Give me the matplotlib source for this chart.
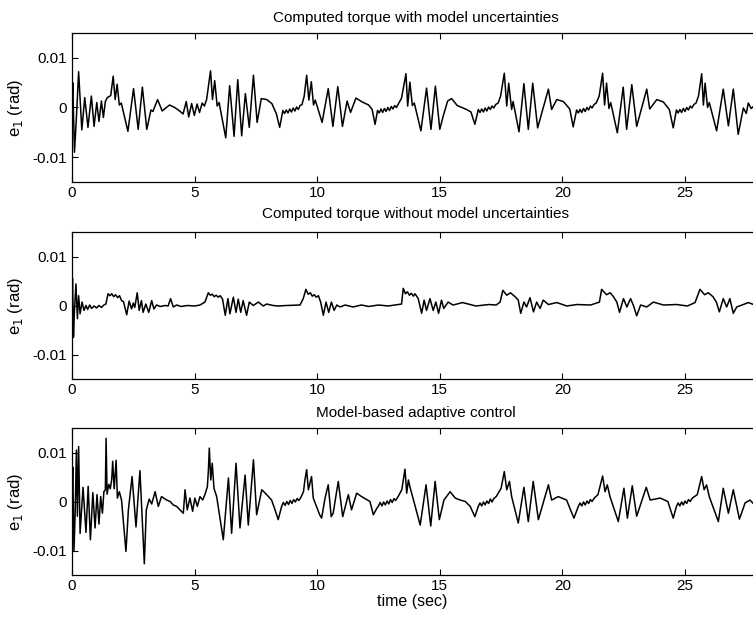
import numpy as np
import matplotlib
matplotlib.use("Agg")
import matplotlib.pyplot as plt

plt.rcParams['font.family'] = ['Liberation Sans', 'DejaVu Sans']

# e1 traces: (time in s, error in 1e-3 rad), extrema only
with_unc = [
    (0, 0), (0.03, 5), (0.1, -9), (0.18, -2), (0.27, 7.2), (0.4, -4.5), (0.52, 2),
    (0.65, -4), (0.79, 2.3), (0.9, -3.8), (1.01, 1), (1.1, -2.8), (1.2, 1.3),
    (1.28, -2), (1.36, 1.2), (1.44, 2), (1.58, 2.4), (1.68, 6.3), (1.76, 1.6),
    (1.84, 4.7), (1.93, 0.5), (2.01, 0.9), (2.28, -4.8), (2.51, 3.8), (2.7, -4.4),
    (2.87, 4.1), (3.05, -4.4), (3.22, -0.5), (3.3, -0.8), (3.49, 1.6), (3.68, -0.7),
    (3.82, -0.1), (3.98, 0.5), (4.19, 0), (4.39, -0.7), (4.53, -1.3), (4.66, 1.2),
    (4.76, -1.9), (4.88, 0.8), (4.99, -1.6), (5.1, 0.7), (5.2, -1), (5.31, 0.9),
    (5.4, 0.3), (5.49, 1.6), (5.65, 7.4), (5.73, 1.6), (5.82, 5.4), (5.92, 0.3),
    (6.0, 1), (6.27, -6.1), (6.43, 4.4), (6.61, -5.8), (6.76, 5.6), (6.92, -5.7),
    (7.07, 2.8), (7.23, -4), (7.4, 6.5), (7.55, -3), (7.72, 1.8), (7.94, 1.6),
    (8.15, 0.8), (8.33, -1.2), (8.47, -4), (8.6, -0.6), (8.67, -1.2), (8.74, -0.5),
    (8.81, -1.1), (8.88, -0.3), (8.95, -0.9), (9.02, -0.1), (9.09, -0.7), (9.16, 0.1),
    (9.23, -0.4), (9.3, 0.4), (9.38, 0.6), (9.47, 2.3), (9.57, 6.5), (9.66, 1.5),
    (9.76, 5.2), (9.85, 0.5), (9.92, 1.5), (10.2, -3), (10.45, 3.8), (10.64, -3.8),
    (10.84, 4.2), (11.03, -3.8), (11.22, 1.3), (11.36, -1), (11.58, 1.9), (11.84, 1.1),
    (12.1, 0.5), (12.24, -0.4), (12.36, -3.4), (12.46, -0.6), (12.53, -1.1),
    (12.6, -0.3), (12.67, -1.0), (12.74, -0.2), (12.81, -0.8), (12.88, 0),
    (12.95, -0.6), (13.02, 0.2), (13.09, -0.3), (13.16, 0.4), (13.23, 0), (13.32, 0.8),
    (13.44, 1.9), (13.62, 6.8), (13.69, 0.3), (13.78, 5.1), (13.88, 0.4), (13.96, 0.9),
    (14.23, -4.7), (14.46, 3.9), (14.64, -4.4), (14.82, 4.3), (15.0, -4.4),
    (15.14, -1.7), (15.32, 1.3), (15.48, 1.8), (15.71, 0.4), (16.09, -0.4),
    (16.27, -0.9), (16.43, -3.4), (16.57, -0.4), (16.64, -1.0), (16.71, -0.3),
    (16.78, -0.9), (16.85, -0.1), (16.92, -0.7), (16.99, 0.1), (17.06, -0.4),
    (17.13, 0.3), (17.2, -0.1), (17.28, 0.6), (17.38, 0.9), (17.48, 2.3), (17.63, 6.9),
    (17.73, 0.3), (17.81, 4.9), (17.93, -0.4), (17.99, 1.2), (18.23, -4.9),
    (18.43, 4.8), (18.61, -4.4), (18.79, 4.9), (18.99, -4.1), (19.43, 3.7),
    (19.56, -0.4), (19.77, 1.6), (20.04, 1.2), (20.3, -0.3), (20.44, -3.9),
    (20.58, -0.5), (20.65, -1.1), (20.72, -0.4), (20.79, -1.0), (20.86, -0.2),
    (20.93, -0.8), (21.0, 0), (21.07, -0.5), (21.14, 0.3), (21.21, -0.1), (21.29, 0.6),
    (21.38, 0.9), (21.5, 2.3), (21.64, 6.9), (21.72, 0.5), (21.8, 4.9), (21.9, -0.2),
    (21.97, 1), (22.24, -5.1), (22.48, 4.1), (22.62, -4.4), (22.83, 4.6),
    (23.03, -3.8), (23.44, 3.7), (23.56, -0.3), (23.85, 1.6), (24.12, 1.1),
    (24.36, -0.4), (24.52, -4.1), (24.65, -0.5), (24.72, -1.1), (24.79, -0.4),
    (24.86, -1), (24.93, -0.2), (25.0, -0.8), (25.07, 0), (25.14, -0.5), (25.21, 0.3),
    (25.28, -0.1), (25.36, 0.6), (25.45, 0.9), (25.55, 2.3), (25.68, 6.8),
    (25.75, 0.5), (25.82, 4.9), (25.92, 0), (25.99, 1), (26.29, -4.7), (26.56, 3.7),
    (26.77, -3.7), (26.97, 3.7), (27.17, -5.4), (27.38, -0.1), (27.5, -1.2),
    (27.58, 0.9), (27.7, -0.2), (27.85, 0.5), (28.2, 0.3),
]

without_unc = [
    (0, 0), (0.02, 5.5), (0.06, -6.5), (0.1, -1), (0.16, 4.4), (0.22, -2.7),
    (0.27, 2), (0.33, -1.7), (0.41, 0.7), (0.49, -1), (0.57, 0), (0.64, -0.8),
    (0.72, 0.1), (0.8, -0.6), (0.9, -0.1), (1.0, -0.5), (1.1, 0), (1.2, -0.4),
    (1.3, 0.1), (1.38, 0.3), (1.47, 2.4), (1.55, 2.0), (1.62, 2.4), (1.7, 1.8),
    (1.78, 2.2), (1.86, 1.6), (1.94, 2.0), (2.02, 1.0), (2.1, 0.8), (2.23, -1.9),
    (2.33, 0.9), (2.43, -0.7), (2.5, 0.5), (2.56, -0.4), (2.66, 2.6), (2.74, -1.0),
    (2.83, 1.0), (2.9, -1.4), (3.01, 0.3), (3.13, -1.4), (3.25, 1.0), (3.34, -0.7),
    (3.45, 0.1), (3.6, -0.2), (3.8, 0), (3.92, -0.1), (4.02, 1.4), (4.13, -0.3),
    (4.27, 0.1), (4.45, -0.2), (4.7, 0), (5.0, -0.1), (5.22, 0.1), (5.42, 0.7),
    (5.56, 2.6), (5.64, 2.1), (5.72, 2.3), (5.8, 1.8), (5.88, 2.1), (5.96, 1.7),
    (6.04, 2.0), (6.14, 1.3), (6.25, -2.0), (6.36, 1.4), (6.44, -1.7), (6.58, 1.7),
    (6.69, -1.4), (6.78, 1.3), (6.88, -1.4), (6.98, 1.0), (7.12, -2.0), (7.23, 0.7),
    (7.39, 0), (7.6, 0.7), (7.8, -0.1), (7.94, 0.3), (8.2, 0), (8.4, -0.1),
    (8.75, 0), (9.3, 0.1), (9.43, 1.4), (9.54, 3.3), (9.63, 2.3), (9.72, 2.6),
    (9.8, 1.9), (9.88, 2.2), (9.96, 1.7), (10.05, 2.0), (10.14, 0.7), (10.25, -2.0),
    (10.36, 0.7), (10.47, -1.4), (10.58, 0.7), (10.69, -1.0), (10.8, 0.1),
    (10.93, -0.3), (11.14, 0.1), (11.46, -0.3), (11.8, 0.1), (12.1, -0.2),
    (12.5, 0.1), (12.9, -0.1), (13.3, 0.2), (13.44, 0.3), (13.51, 3.5), (13.6, 2.4),
    (13.68, 2.8), (13.76, 2.1), (13.84, 2.5), (13.92, 1.9), (13.99, 2.4),
    (14.12, 1.4), (14.26, -1.6), (14.36, 1.1), (14.46, -1.0), (14.6, 1.4),
    (14.73, -1.0), (14.84, 0.7), (14.95, -1.6), (15.07, 1.1), (15.16, -0.6),
    (15.34, 0.7), (15.54, 0.1), (15.93, 0.6), (16.47, -0.1), (17.0, 0.2),
    (17.3, 0.1), (17.46, 0.7), (17.57, 3.1), (17.73, 2.1), (17.88, 2.6),
    (18.07, 1.8), (18.2, 1.1), (18.3, -1.6), (18.43, 0.7), (18.54, -0.3),
    (18.68, 1.6), (18.82, -1.3), (18.95, 0.7), (19.09, -0.6), (19.22, 1.1),
    (19.43, 0.2), (19.77, 0.6), (20.18, -0.1), (20.6, 0.2), (21.15, 0.1),
    (21.51, 0.7), (21.6, 3.3), (21.8, 2.2), (21.95, 2.6), (22.08, 1.8), (22.22, 0.7),
    (22.33, -1.4), (22.49, 1.4), (22.63, -0.3), (22.78, 1.4), (22.89, 0.1),
    (23.03, -2.1), (23.19, 0.1), (23.44, -0.3), (23.71, 0.7), (24.12, 0.1),
    (24.66, 0.2), (25.1, -0.1), (25.41, 0.6), (25.61, 3.3), (25.8, 2.2),
    (25.95, 2.6), (26.14, 1.8), (26.28, 0.7), (26.4, -1.3), (26.56, 1.4),
    (26.7, -0.3), (26.83, 1.4), (26.97, -1.6), (27.11, -0.3), (27.38, 0.2),
    (27.58, 0.6), (27.8, 0.2), (28.2, 0.3),
]

adaptive = [
    (0, 0), (0.03, 7), (0.08, -10.2), (0.13, -2), (0.18, 10.5), (0.22, -3),
    (0.27, 11.2), (0.33, -6.5), (0.45, 2.9), (0.57, -6.3), (0.66, 3.1), (0.75, -7.8),
    (0.85, 1.8), (0.94, -5.4), (1.02, 1.4), (1.1, -4.6), (1.17, 1.0), (1.24, -2.4),
    (1.3, 2.0), (1.36, 2.4), (1.39, 12.9), (1.43, 1.5), (1.5, 3.5), (1.56, 2.6),
    (1.62, 4.5), (1.66, 8.2), (1.72, 2.6), (1.8, 8.4), (1.85, 0.7), (1.93, 2.0),
    (2.02, 0.3), (2.2, -10.2), (2.3, -1.7), (2.45, 5.1), (2.61, -5.2), (2.77, 6.3),
    (2.95, -12.7), (3.03, -1.7), (3.15, 0.5), (3.25, -0.5), (3.39, 2.0), (3.52, -1.0),
    (3.65, 1.0), (3.86, 0.3), (4.0, 0), (4.13, -0.7), (4.27, -1.0), (4.4, -1.7),
    (4.54, -2.4), (4.61, 2.4), (4.7, -1.7), (4.81, 0.7), (4.92, -2.0), (5.01, 0.7),
    (5.11, -1.0), (5.22, 1.0), (5.33, 0.3), (5.42, 1.4), (5.52, 3.0), (5.56, 6.1),
    (5.6, 10.9), (5.66, 4.4), (5.72, 7.8), (5.79, 2.7), (5.9, 1.0), (6.17, -7.8),
    (6.38, 4.8), (6.51, -6.5), (6.69, 7.8), (6.85, -5.4), (7.06, 5.4), (7.19, -4.8),
    (7.4, 8.5), (7.53, -2.7), (7.74, 2.4), (7.94, 1.4), (8.14, 0.3), (8.28, -1.7),
    (8.41, -3.7), (8.55, -1.0), (8.62, -0.2), (8.69, -0.8), (8.76, 0), (8.83, -0.6),
    (8.9, 0.2), (8.97, -0.4), (9.04, 0.4), (9.11, -0.1), (9.18, 0.6), (9.25, 0.2),
    (9.33, 0.8), (9.44, 2.0), (9.5, 4.4), (9.57, 6.5), (9.64, 2.4), (9.77, 5.1),
    (9.84, 0.7), (10.1, -2.7), (10.18, -3.4), (10.32, 0.7), (10.45, 3.4),
    (10.57, -3.1), (10.65, -2.4), (10.86, 4.1), (11.04, -3.1), (11.27, 1.4),
    (11.4, -1.7), (11.61, 1.7), (11.81, 1.0), (12.15, 0), (12.29, -2.7),
    (12.43, -1.4), (12.5, -0.9), (12.57, -0.2), (12.64, -0.9), (12.71, -0.1),
    (12.78, -0.7), (12.85, 0.1), (12.92, -0.5), (12.99, 0.4), (13.06, -0.2),
    (13.13, 0.6), (13.2, 0.2), (13.3, 1.0), (13.45, 2.4), (13.58, 6.6), (13.65, 1.7),
    (13.72, 4.4), (13.78, 3.0), (13.89, 1.0), (14.2, -4.8), (14.44, 3.4),
    (14.63, -5.0), (14.81, 4.1), (14.98, -3.7), (15.17, 0.3), (15.42, 2.0),
    (15.63, 0.7), (15.83, 0.3), (16.04, 0), (16.24, -1.0), (16.43, -3.1),
    (16.57, -1.0), (16.64, -0.3), (16.71, -0.9), (16.78, -0.1), (16.85, -0.7),
    (16.92, 0.1), (16.99, -0.4), (17.06, 0.5), (17.13, -0.1), (17.2, 0.6),
    (17.3, 1.0), (17.5, 2.7), (17.63, 6.1), (17.73, 2.4), (17.84, 4.1), (17.93, 1.0),
    (18.2, -4.4), (18.43, 2.9), (18.61, -4.1), (18.81, 4.1), (19.02, -3.7),
    (19.43, 3.4), (19.56, 0.3), (19.83, 1.0), (20.17, 0.3), (20.47, -3.4),
    (20.65, -1.0), (20.72, -0.3), (20.79, -0.9), (20.86, -0.1), (20.93, -0.7),
    (21.0, 0.1), (21.07, -0.4), (21.14, 0.4), (21.21, 0), (21.3, 0.7), (21.45, 1.4),
    (21.64, 5.2), (21.74, 2.0), (21.83, 3.4), (21.94, 1.0), (22.28, -4.1),
    (22.51, 2.7), (22.65, -3.4), (22.85, 3.2), (23.03, -3.0), (23.42, 2.9),
    (23.58, 0.3), (23.99, 0.7), (24.3, 0), (24.52, -3.4), (24.65, -1.0),
    (24.72, -0.3), (24.79, -0.9), (24.86, -0.1), (24.93, -0.7), (25.0, 0.1),
    (25.07, -0.4), (25.14, 0.4), (25.21, 0), (25.3, 0.7), (25.5, 1.4), (25.68, 5.1),
    (25.78, 2.4), (25.88, 3.4), (25.99, 1.0), (26.36, -4.1), (26.56, 2.7),
    (26.77, -2.4), (26.97, 2.4), (27.22, -3.6), (27.45, -0.3), (27.65, 0.3),
    (27.8, -0.5), (28.2, 0.3),
]

titles = ["Computed torque with model uncertainties",
          "Computed torque without model uncertainties",
          "Model-based adaptive control"]
xticks = [0, 5, 10, 15, 20, 25]
yticks = [-0.01, 0, 0.01]
ytick_labels = ["-0.01", "0", "0.01"]

fig = plt.figure(figsize=(7.53, 6.2), dpi=100)

W, H = 753.0, 620.0
left = 72 / W
width = 28 * 24.52 / W
# (top, bottom) pixel rows of each panel and title baseline row
panels = [(33, 182, 22), (232, 379, 218), (428, 575, 417)]

for i, (data, title) in enumerate(zip([with_unc, without_unc, adaptive], titles)):
    top, bot, tb = panels[i]
    ax = fig.add_axes([left, 1 - bot / H, width, (bot - top) / H])
    t = np.array([p[0] for p in data])
    e = np.array([p[1] for p in data]) * 1e-3
    ax.plot(t, e, color='black', lw=1.1)
    ax.set_xticks(xticks)
    ax.set_yticks(yticks)
    ax.set_yticklabels(ytick_labels)
    ax.set_xlim(0, 28)
    ax.set_ylim(-0.015, 0.015)
    ax.tick_params(direction='in', length=4, width=0.8, top=True, right=True,
                   labelsize=11)
    ax.tick_params(axis='x', pad=3)
    ax.tick_params(axis='y', pad=3.5)
    for s in ax.spines.values():
        s.set_linewidth(0.9)
    ax.set_ylabel("e$_1$ (rad)", fontsize=12)
    ax.yaxis.set_label_coords(-0.0685, 0.5)
    fig.text(416 / W, 1 - tb / H, title, ha='center', va='baseline', fontsize=11)
    if i == 2:
        fig.text(412 / W, 1 - 606 / H, "time (sec)", ha='center', va='baseline',
                 fontsize=11.5)

fig.savefig("out.png", dpi=100)
